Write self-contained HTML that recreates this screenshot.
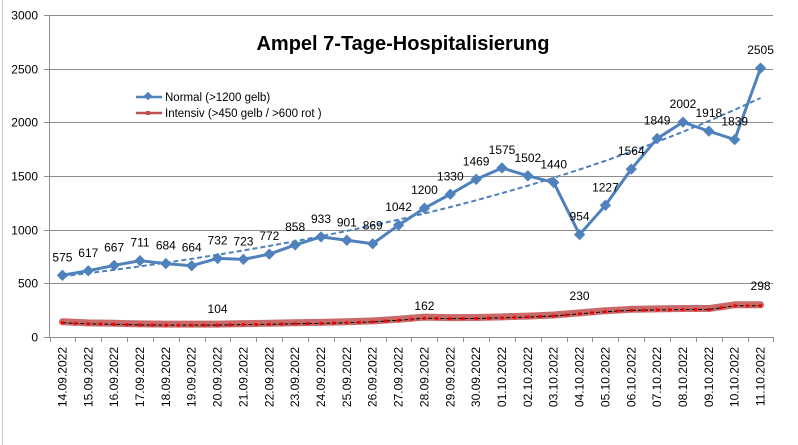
<!DOCTYPE html>
<html><head><meta charset="utf-8"><style>
html,body{margin:0;padding:0;background:#fff;}
svg{display:block;font-family:"Liberation Sans",sans-serif;}
</style></head><body>
<svg id="s" width="798" height="445" xmlns="http://www.w3.org/2000/svg">
<rect width="798" height="445" fill="#fff"/>
<line x1="2.5" y1="0" x2="2.5" y2="445" stroke="#c8c8c8"/>
<g id="grid" stroke="#8c8c8c" stroke-width="1"></g>
<line x1="49.5" y1="15" x2="49.5" y2="337" stroke="#8c8c8c"/>
<g id="ylab" font-size="12" fill="#000" text-anchor="end"></g>
<g id="xlab" font-size="12" fill="#000"></g>
<text x="403" y="50" font-size="20" font-weight="bold" text-anchor="middle">Ampel 7-Tage-Hospitalisierung</text>
<line x1="136" y1="97" x2="162" y2="97" stroke="#4f81bd" stroke-width="2.5"/>
<rect x="145" y="93" width="6" height="6" fill="#4f81bd" transform="rotate(45 148 96)"/>
<text x="165" y="101" font-size="11.5">Normal (&gt;1200 gelb)</text>
<line x1="136" y1="113" x2="162" y2="113" stroke="#c0504d" stroke-width="2.5"/>
<rect x="146" y="111" width="4" height="4" fill="#c0504d"/>
<text x="165" y="117" font-size="11.5">Intensiv (&gt;450 gelb / &gt;600 rot )</text>
<g id="series"></g>
</svg>
<script>
const NS="http://www.w3.org/2000/svg";
const s=document.getElementById('s');
function el(t,a,p){const e=document.createElementNS(NS,t);for(const k in a)e.setAttribute(k,a[k]);(p||s).appendChild(e);return e;}
const y=v=>337-v*0.10733;
const w=25.857, x=i=>49.5+w*(i+0.5);
const grid=document.getElementById('grid'), yl=document.getElementById('ylab'), xl=document.getElementById('xlab');
for(let v=0;v<=3000;v+=500){const yy=Math.round(y(v))+0.5;el('line',{x1:44,y1:yy,x2:773,y2:yy},grid);const t=el('text',{x:38,y:yy+4},yl);t.textContent=v;}
for(let i=0;i<=28;i++){const xx=Math.round(49.5+w*i)+0.5;el('line',{x1:xx,y1:337,x2:xx,y2:342},grid);}
const dates=[];for(let d=14;d<=30;d++)dates.push((d<10?'0':'')+d+'.09.2022');for(let d=1;d<=11;d++)dates.push((d<10?'0':'')+d+'.10.2022');
dates.forEach((d,i)=>{const t=el('text',{x:0,y:0,'text-anchor':'end',transform:`translate(${x(i)+4},347) rotate(-90)`},xl);t.textContent=d;});
const N=[575,617,667,711,684,664,732,723,772,858,933,901,869,1042,1200,1330,1469,1575,1502,1440,954,1227,1564,1849,2002,1918,1839,2505];
const I=[142,132,128,122,120,120,120,125,128,133,136,142,150,165,185,180,182,188,195,205,225,245,258,262,265,265,300,300];
const g=document.getElementById('series');
const ip=I.map((v,i)=>x(i)+','+y(v)).join(' ');
el('polyline',{points:ip,fill:'none',stroke:'#c0504d','stroke-opacity':0.85,'stroke-width':7,'stroke-linejoin':'round','stroke-linecap':'round'},g);
el('polyline',{points:I.map((v,i)=>x(i)+','+(y(v)+1)).join(' '),fill:'none',stroke:'#000','stroke-width':1,'stroke-dasharray':'4 2'},g);
I.forEach((v,i)=>{el('rect',{x:x(i)-1.5,y:y(v)-0.5,width:3,height:3,fill:'#ff0000'},g);if(i<27)el('rect',{x:x(i)+11,y:y((v+I[i+1])/2)-0.5,width:3,height:3,fill:'#ff0000'},g);});
let np=[];for(let i=0;i<28;i++)np.push(x(i)+','+y(565*Math.exp(0.0508*i)));
el('polyline',{points:np.join(' '),fill:'none',stroke:'#4f81bd','stroke-width':2,'stroke-dasharray':'5 3'},g);
el('polyline',{points:N.map((v,i)=>x(i)+','+y(v)).join(' '),fill:'none',stroke:'#4f81bd','stroke-width':3,'stroke-linejoin':'round'},g);
N.forEach((v,i)=>{const cx=x(i),cy=y(v);el('rect',{x:cx-4,y:cy-4,width:8,height:8,fill:'#4f81bd',transform:`rotate(45 ${cx} ${cy})`},g);
 const t=el('text',{x:cx,y:cy-14,'font-size':12,'text-anchor':'middle'},g);t.textContent=v;});
[[6,104],[14,162],[20,230],[27,298]].forEach(([i,v])=>{const t=el('text',{x:x(i),y:(i==27?290:(i==20?300:(i==14?310:313))),'font-size':12,'text-anchor':'middle'},g);t.textContent=v;});
</script>
</body></html>
